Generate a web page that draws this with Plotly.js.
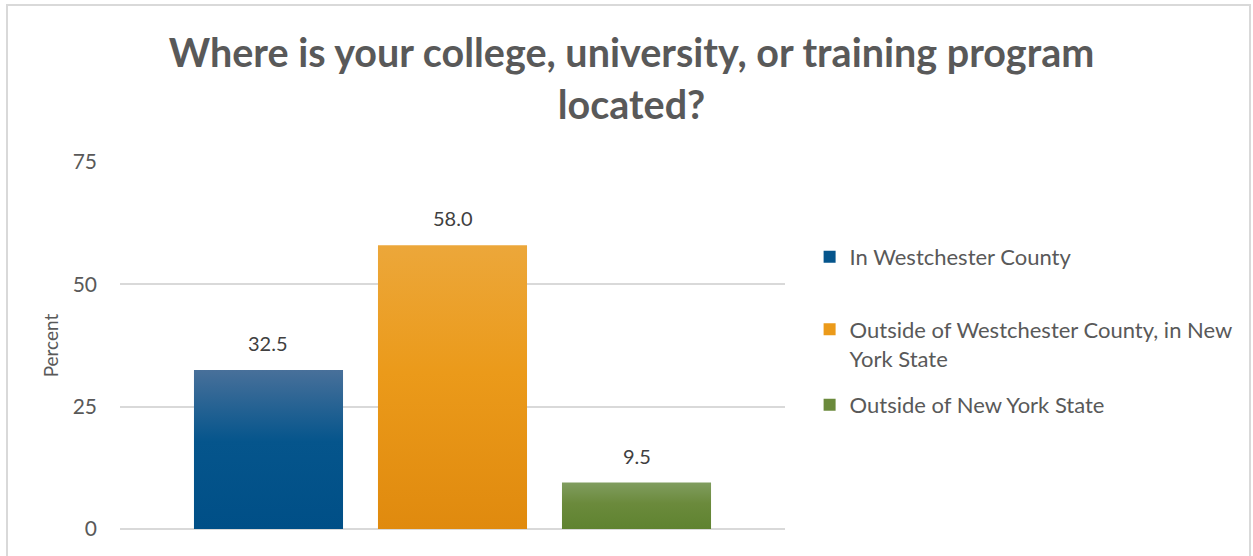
<!DOCTYPE html>
<html>
<head>
<meta charset="utf-8">
<script src="https://cdn.plot.ly/plotly-3.0.1.min.js"></script>
<style>
  html, body { margin: 0; padding: 0; background: #ffffff; overflow: hidden; }
  #chart { width: 1253px; height: 556px; }
  #frame { position: absolute; left: 6px; top: 4px; width: 1245px; height: 600px;
           border: 2px solid #d9d9d9; pointer-events: none; box-sizing: border-box; }
</style>
</head>
<body>
<div id="chart"></div>
<div id="frame"></div>
<script>
// ---- data ----
const categories = [
  "In Westchester County",
  "Outside of Westchester County, in New<br>York State",
  "Outside of New York State"
];
const percents = [32.5, 58.0, 9.5];
const yTickValues = [0, 25, 50, 75];
const barColors = ["#05558c", "#eb9a1a", "#6b8a3c"];
const gradTop = ["#48709a", "#eca73a", "#809d5f"];
const gradBottom = ["#004f87", "#e08a0e", "#5f8330"];

const FONT = "Lato, 'Open Sans', sans-serif";

const legendNames = ["legend", "legend2", "legend3"];
const traces = categories.map((c, i) => ({
  type: "bar",
  x: [i],
  y: [percents[i]],
  name: c,
  width: 0.81,
  marker: { color: barColors[i], line: { width: 0 } },
  legend: legendNames[i],
  hoverinfo: "y+name"
}));

const annotations = percents.map((v, i) => ({
  x: i, y: v, xref: "x", yref: "y",
  text: v.toFixed(1),
  showarrow: false,
  yanchor: "bottom",
  yshift: 13,
  font: { family: FONT, size: 20, color: "#404040" }
}));

const legendY = [0.741, 0.504, 0.338];
const legendBase = {
  x: 1.037, xanchor: "left", yanchor: "middle",
  bgcolor: "rgba(0,0,0,0)", borderwidth: 0,
  font: { family: FONT, size: 22, color: "#595959" },
  valign: "top"
};

const layout = {
  width: 1253, height: 556,
  paper_bgcolor: "#ffffff", plot_bgcolor: "#ffffff",
  margin: { l: 120, r: 468, t: 162, b: 27, pad: 0 },
  font: { family: FONT, color: "#595959" },
  title: {
    text: "<b>Where is your college, university, or training program<br>located?</b>",
    font: { family: FONT, size: 39.5, color: "#595959" },
    x: 0.504, xref: "container", xanchor: "center",
    y: 0.879, yref: "container", yanchor: "top"
  },
  barmode: "overlay",
  xaxis: {
    range: [-0.807, 2.807],
    showticklabels: false, showgrid: false, zeroline: false,
    showline: false, ticks: "", fixedrange: true
  },
  yaxis: {
    range: [0, 75],
    tickvals: yTickValues,
    ticktext: yTickValues.map(String),
    showgrid: true, gridcolor: "#d9d9d9", gridwidth: 1.7,
    zeroline: true, zerolinecolor: "#d9d9d9", zerolinewidth: 2,
    showline: false, ticks: "",
    ticklabelstandoff: 22,
    tickfont: { family: FONT, size: 21, color: "#595959" },
    title: { text: "Percent", font: { family: FONT, size: 19, color: "#595959" }, standoff: 8 },
    fixedrange: true
  },
  showlegend: true,
  legend: Object.assign({}, legendBase, { y: legendY[0] }),
  legend2: Object.assign({}, legendBase, { y: legendY[1] }),
  legend3: Object.assign({}, legendBase, { y: legendY[2] }),
  annotations: annotations
};

Plotly.newPlot("chart", traces, layout, { displayModeBar: false, staticPlot: true }).then(gd => {
  // vertical gradient fill on bars (style only)
  const svg = gd.querySelector("svg.main-svg");
  const ns = "http://www.w3.org/2000/svg";
  let defs = svg.querySelector("defs");
  if (!defs) { defs = document.createElementNS(ns, "defs"); svg.insertBefore(defs, svg.firstChild); }
  categories.forEach((c, i) => {
    const g = document.createElementNS(ns, "linearGradient");
    g.setAttribute("id", "bargrad" + i);
    g.setAttribute("x1", "0"); g.setAttribute("y1", "0");
    g.setAttribute("x2", "0"); g.setAttribute("y2", "1");
    [[0, gradTop[i]], [0.45, barColors[i]], [1, gradBottom[i]]].forEach(([o, col]) => {
      const s = document.createElementNS(ns, "stop");
      s.setAttribute("offset", o); s.setAttribute("stop-color", col);
      g.appendChild(s);
    });
    defs.appendChild(g);
  });
  gd.querySelectorAll(".barlayer .trace").forEach((t, i) => {
    t.querySelectorAll(".point path").forEach(p => { p.style.fill = "url(#bargrad" + i + ")"; });
  });
});
</script>
</body>
</html>
